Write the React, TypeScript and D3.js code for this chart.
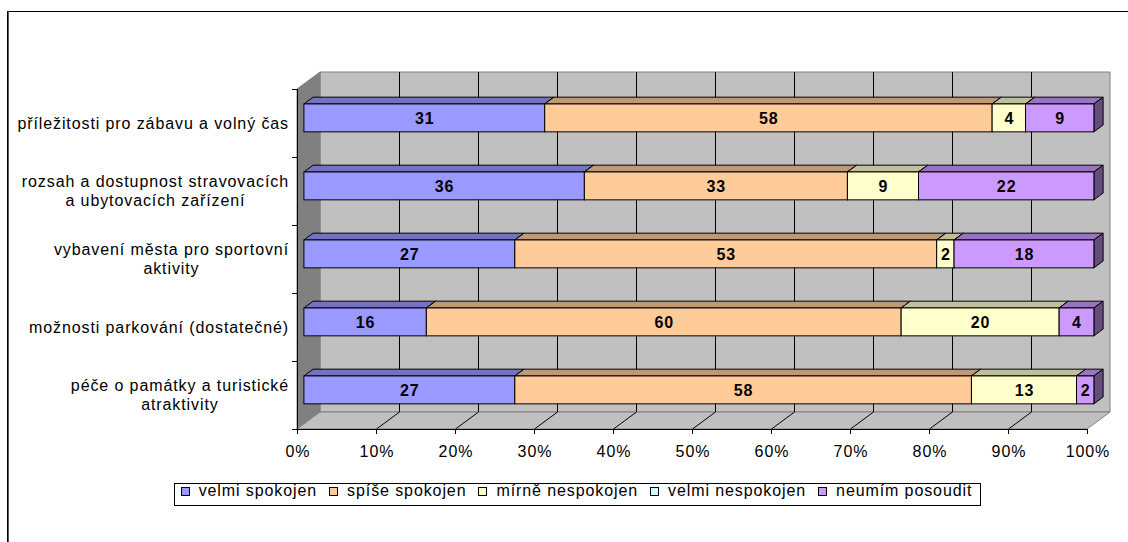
import React, { useEffect, useRef } from 'react';
import * as d3 from 'd3';

const categories: string[][] = [
  ['příležitosti pro zábavu a volný čas'],
  ['rozsah a dostupnost stravovacích', 'a ubytovacích zařízení'],
  ['vybavení města pro sportovní', 'aktivity'],
  ['možnosti parkování (dostatečné)'],
  ['péče o památky a turistické', 'atraktivity'],
];
const seriesNames = ['velmi spokojen', 'spíše spokojen', 'mírně nespokojen', 'velmi nespokojen', 'neumím posoudit'];
const velmiSpokojen = [31, 35.5, 26.7, 15.5, 26.7];
const spiseSpokojen = [57.6, 33.3, 53.4, 60.1, 57.8];
const mirneNespokojen = [4.3, 9.0, 2.2, 20.0, 13.3];
const velmiNespokojen = [0, 0, 0, 0, 0];
const neumimPosoudit = [8.8, 22.2, 17.7, 4.4, 2.2];
const seriesValues = [velmiSpokojen, spiseSpokojen, mirneNespokojen, velmiNespokojen, neumimPosoudit];
const seriesColors = ['#9999FF', '#FFCC99', '#FFFFCC', '#CCFFFF', '#CC99FF'];
const tickValues = [0, 0.1, 0.2, 0.3, 0.4, 0.5, 0.6, 0.7, 0.8, 0.9, 1];

const FONT = 'Arial, "Liberation Sans", sans-serif';
const FS = 16;
const LS = 0.9;

function shade(c: string, k: number) {
  const r = d3.rgb(c);
  return d3.rgb(r.r * k, r.g * k, r.b * k).formatHex();
}

export default function App() {
  const ref = useRef<SVGSVGElement>(null);
  useEffect(() => {
    const svg = d3.select(ref.current);
    svg.selectAll('*').remove();
    const W = 1128, H = 542;
    svg.append('rect').attr('width', W).attr('height', H).attr('fill', '#fff');
    // outer border
    svg.append('rect').attr('x', 7.5).attr('y', 11.5).attr('width', 1300).attr('height', 700)
      .attr('fill', 'none').attr('stroke', '#000');
    svg.append('line').attr('x1', 8.5).attr('x2', 8.5).attr('y1', 11).attr('y2', H).attr('stroke', '#555');

    const x = d3.scaleLinear().domain([0, 1]).range([297, 1087]);
    const y = d3.scaleBand<number>().domain(categories.map((_, i) => i)).range([89, 429]);
    const dx = 23, dy = -17;
    const x0 = x(0), x1 = x(1), yT = 89, yB = 429;
    const pts = (a: number[][]) => a.map(p => p.join(',')).join(' ');

    const g = svg.append('g');
    // back wall
    g.append('polygon')
      .attr('points', pts([[x0 + dx, yT + dy], [x1 + dx, yT + dy], [x1 + dx, yB + dy], [x0 + dx, yB + dy]]))
      .attr('fill', '#C0C0C0').attr('stroke', '#808080');
    // side wall
    g.append('polygon')
      .attr('points', pts([[x0, yT], [x0 + dx, yT + dy], [x0 + dx, yB + dy], [x0, yB]]))
      .attr('fill', '#808080').attr('stroke', '#808080');
    // floor
    g.append('polygon')
      .attr('points', pts([[x0, yB], [x1, yB], [x1 + dx, yB + dy], [x0 + dx, yB + dy]]))
      .attr('fill', '#C0C0C0').attr('stroke', '#808080');
    // gridlines
    tickValues.forEach((t, i) => {
      if (i === 0 || i === tickValues.length - 1) return;
      const xt = Math.round(x(t)) + 0.5;
      g.append('line').attr('x1', xt + dx).attr('x2', xt + dx).attr('y1', yT + dy).attr('y2', yB + dy)
        .attr('stroke', '#000');
      g.append('line').attr('x1', xt).attr('x2', xt + dx).attr('y1', yB).attr('y2', yB + dy)
        .attr('stroke', '#000');
    });
    // axes
    g.append('line').attr('x1', x0 + 0.5).attr('x2', x0 + 0.5).attr('y1', yT).attr('y2', yB).attr('stroke', '#000');
    g.append('line').attr('x1', x0).attr('x2', x1).attr('y1', yB + 0.5).attr('y2', yB + 0.5).attr('stroke', '#000');
    categories.forEach((_, i) => {
      const yy = Math.round(y(i)!) + 0.5;
      g.append('line').attr('x1', x0 - 5).attr('x2', x0).attr('y1', yy).attr('y2', yy).attr('stroke', '#000');
    });
    g.append('line').attr('x1', x0 - 5).attr('x2', x0).attr('y1', yB + 0.5).attr('y2', yB + 0.5).attr('stroke', '#000');
    tickValues.forEach(t => {
      const xt = Math.round(x(t)) + 0.5;
      g.append('line').attr('x1', xt).attr('x2', xt).attr('y1', yB).attr('y2', yB + 5).attr('stroke', '#000');
      g.append('text').attr('x', xt + LS / 2).attr('y', 457).attr('text-anchor', 'middle')
        .attr('font-family', FONT).attr('font-size', FS).attr('letter-spacing', LS).attr('fill', '#000')
        .text(`${Math.round(t * 100)}%`);
    });

    // bars
    const bw = y.bandwidth() * 0.41;
    const ofx = dx * 0.3, ofy = dy * 0.3;
    const bdx = dx * 0.4, bdy = dy * 0.4;
    categories.forEach((_, ci) => {
      const total = d3.sum(seriesValues, s => s[ci]);
      const yc = y(ci)! + y.bandwidth() / 2 + ofy;
      const yt = yc - bw / 2, yb = yc + bw / 2;
      let cum = 0;
      seriesValues.forEach((s, si) => {
        const v = s[ci];
        if (v <= 0) return;
        const xs = x(cum / total) + ofx;
        cum += v;
        const xe = x(cum / total) + ofx;
        const col = seriesColors[si];
        g.append('polygon').attr('points', pts([[xs, yt], [xs + bdx, yt + bdy], [xe + bdx, yt + bdy], [xe, yt]]))
          .attr('fill', shade(col, 0.75)).attr('stroke', '#000').attr('stroke-linejoin', 'round');
        g.append('polygon').attr('points', pts([[xe, yt], [xe + bdx, yt + bdy], [xe + bdx, yb + bdy], [xe, yb]]))
          .attr('fill', shade(col, 0.5)).attr('stroke', '#000').attr('stroke-linejoin', 'round');
        g.append('rect').attr('x', xs).attr('y', yt).attr('width', xe - xs).attr('height', yb - yt)
          .attr('fill', col).attr('stroke', '#000');
        g.append('text').attr('x', (xs + xe) / 2 + LS / 2).attr('y', yc + 6).attr('text-anchor', 'middle')
          .attr('font-family', FONT).attr('font-size', FS).attr('letter-spacing', LS)
          .attr('font-weight', 'bold').attr('fill', '#000')
          .text(Math.round(v));
      });
    });

    // category labels
    const labelRight = 289;
    categories.forEach((lines, ci) => {
      const yc = y(ci)! + y.bandwidth() / 2;
      const texts = lines.map((ln, k) =>
        g.append('text').attr('y', yc + (k - (lines.length - 1) / 2) * 19 + 5.5)
          .attr('font-family', FONT).attr('font-size', FS).attr('letter-spacing', LS)
          .attr('fill', '#000').attr('text-anchor', 'middle')
          .text(ln));
      const maxW = d3.max(texts, t => (t.node() as SVGTextElement).getComputedTextLength()) || 0;
      texts.forEach(t => t.attr('x', labelRight - maxW / 2));
    });

    // legend
    const lg = svg.append('g');
    const box = lg.append('rect').attr('fill', '#fff').attr('stroke', '#000');
    const SQ_TX = 18, GAP = 12;
    let cx = 0;
    const items: { sq: number; tx: number }[] = [];
    const tnodes: any[] = [];
    seriesNames.forEach((n) => {
      const t = lg.append('text').attr('y', 496).attr('font-family', FONT).attr('font-size', FS)
        .attr('letter-spacing', LS).attr('fill', '#000').text(n);
      const w = (t.node() as SVGTextElement).getComputedTextLength();
      items.push({ sq: cx, tx: cx + SQ_TX });
      tnodes.push(t);
      cx += SQ_TX + w + GAP;
    });
    const totalW = cx - GAP;
    const startX = 576.5 - totalW / 2;
    seriesNames.forEach((_, i) => {
      lg.append('rect').attr('x', Math.round(startX + items[i].sq) + 0.5).attr('y', 487.5).attr('width', 8).attr('height', 8)
        .attr('fill', seriesColors[i]).attr('stroke', '#000');
      tnodes[i].attr('x', startX + items[i].tx);
    });
    box.attr('x', Math.round(startX - 7) + 0.5).attr('y', 483.5).attr('width', Math.round(totalW + 14)).attr('height', 22);
  }, []);
  return (
    <svg ref={ref} width={1128} height={542} style={{ position: 'absolute', left: 0, top: 0, display: 'block' }} />
  );
}
